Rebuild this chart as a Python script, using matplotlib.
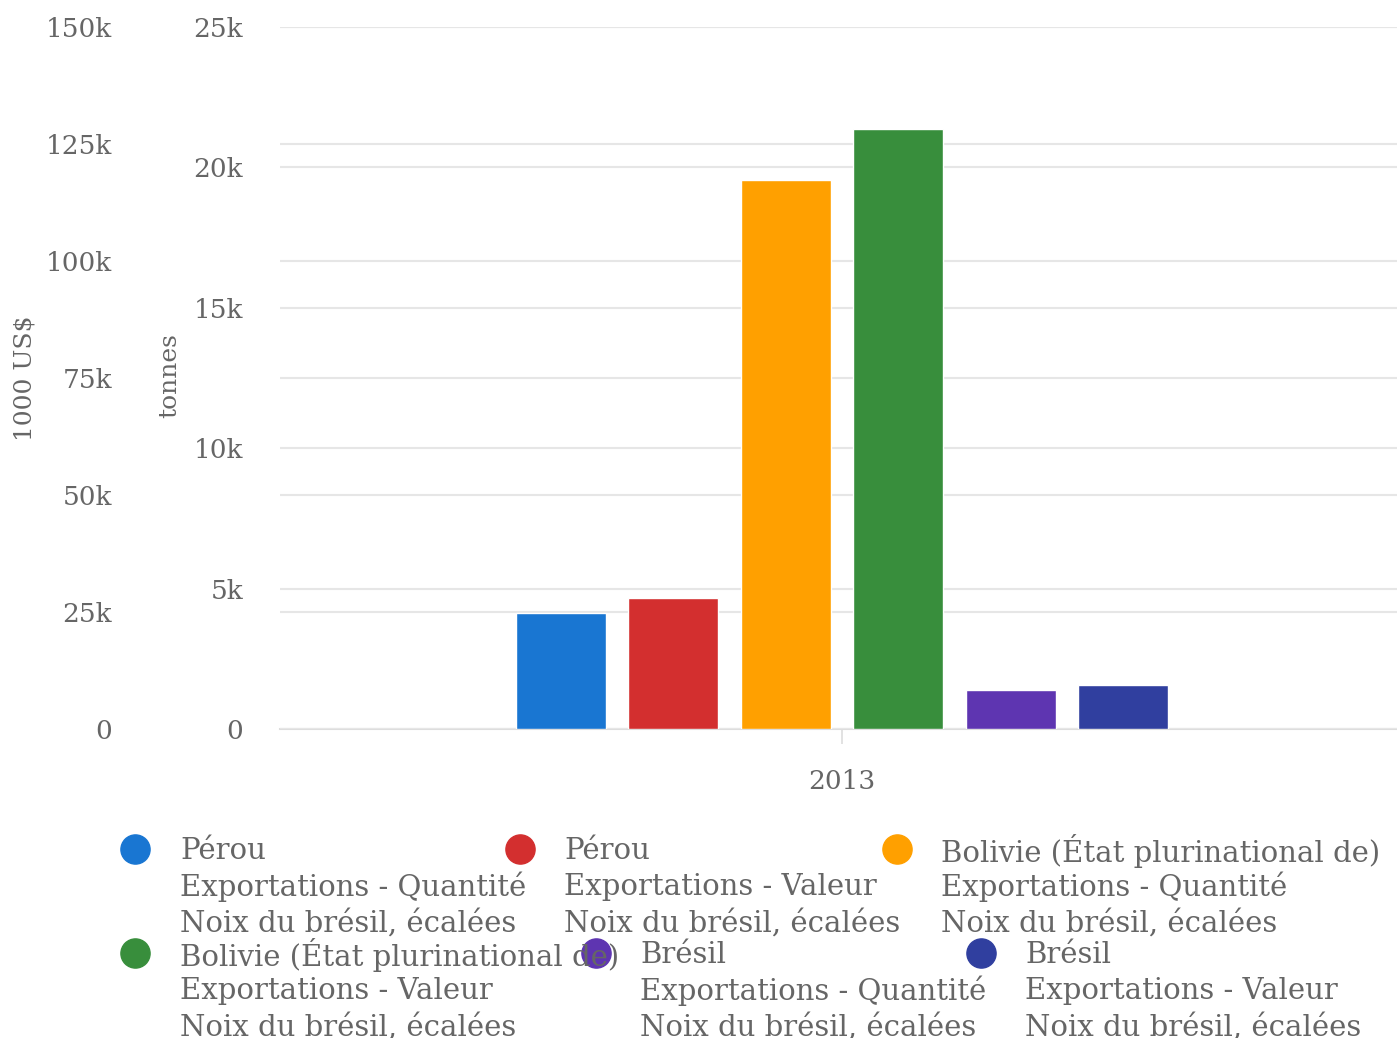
import matplotlib.pyplot as plt
from matplotlib.lines import Line2D

# donnees
years = ['2013']
countries = ['Pérou', 'Pérou', 'Bolivie (État plurinational de)',
             'Bolivie (État plurinational de)', 'Brésil', 'Brésil']
measures = ['Exportations - Quantité', 'Exportations - Valeur',
            'Exportations - Quantité', 'Exportations - Valeur',
            'Exportations - Quantité', 'Exportations - Valeur']
item = 'Noix du brésil, écalées'
values = [4135, 28000, 19560, 128200, 1403, 9400]
on_value_axis = [False, True, False, True, False, True]
colors = ['#1976d2', '#d32f2f', '#ffa000', '#388e3c', '#5e35b1', '#303f9f']

tonnes_ticks = [0, 5000, 10000, 15000, 20000, 25000]
usd_ticks = [0, 25000, 50000, 75000, 100000, 125000, 150000]
tonnes_max = 25000
usd_max = 150000

grey = '#666666'
plt.rcParams['font.family'] = 'DejaVu Serif'

fig = plt.figure(figsize=(13.97, 10.38), dpi=100)
# axes des echelles (grille + graduations)
ax = fig.add_axes([280/1397, 1-729/1038, 1124/1397, 702/1038])
ax2 = ax.twinx()
# axes des barres, au-dessus des grilles
axb = ax.twinx()
ax2b = ax.twinx()

ax.set_xlim(-0.5, 0.5)
ax.set_ylim(0, tonnes_max)
axb.set_ylim(0, tonnes_max)
ax2.set_ylim(0, usd_max)
ax2b.set_ylim(0, usd_max)

# barres: groupPadding 0.2, pointPadding 0.1
n = len(values)
slot = 0.6 / n
for i in range(n):
    x = -0.3 + slot * (i + 0.5)
    a = ax2b if on_value_axis[i] else axb
    a.bar(x, values[i], width=slot * 0.8, color=colors[i],
          edgecolor='white', linewidth=1, zorder=3)

ax.set_xticks([0])
ax.set_xticklabels(years)
ax.set_yticks(tonnes_ticks)
ax.set_yticklabels(['0' if t == 0 else '%dk' % (t // 1000) for t in tonnes_ticks])
ax2.set_yticks(usd_ticks)
ax2.set_yticklabels(['0' if t == 0 else '%dk' % (t // 1000) for t in usd_ticks])
ax2.yaxis.tick_left()

for a in (ax, ax2, axb, ax2b):
    for s in a.spines.values():
        s.set_visible(False)
    a.patch.set_visible(False)
for a in (axb, ax2b):
    a.set_yticks([])
for a in (ax, ax2):
    a.grid(axis='y', color='#e6e6e6', linewidth=1.5, zorder=0)
ax.spines['bottom'].set_visible(True)
ax.spines['bottom'].set_color('#dddddd')
ax.spines['bottom'].set_linewidth(1.5)

ax.tick_params(axis='y', length=0, pad=26.5, labelsize=19, labelcolor=grey)
ax2.tick_params(axis='y', length=0, pad=121, labelsize=19, labelcolor=grey)
ax.tick_params(axis='x', length=11, width=1.2, color='#dddddd', pad=18,
               labelsize=19, labelcolor=grey)

fig.text(25/1397, 1-378/1038, '1000 US$', rotation=90, ha='center', va='center',
         fontsize=18, color=grey)
fig.text(170/1397, 1-376/1038, 'tonnes', rotation=90, ha='center', va='center',
         fontsize=18, color=grey)

# legende
leg_marker_x = [135, 520, 897, 135, 596, 981]
leg_text_x = [180, 564, 941, 180, 640, 1025]
leg_y = [851, 851, 851, 955, 955, 955]
for i in range(n):
    my = leg_y[i] - 2
    fig.add_artist(Line2D([leg_marker_x[i]/1397], [1-my/1038], marker='o',
                          markersize=21, color=colors[i], linestyle='none',
                          transform=fig.transFigure))
    lines = [countries[i], measures[i], item]
    for k, t in enumerate(lines):
        fig.text(leg_text_x[i]/1397, 1-(leg_y[i] + 36*k)/1038, t,
                 ha='left', va='center', fontsize=21, color=grey)

fig.savefig('out.png', dpi=100)
